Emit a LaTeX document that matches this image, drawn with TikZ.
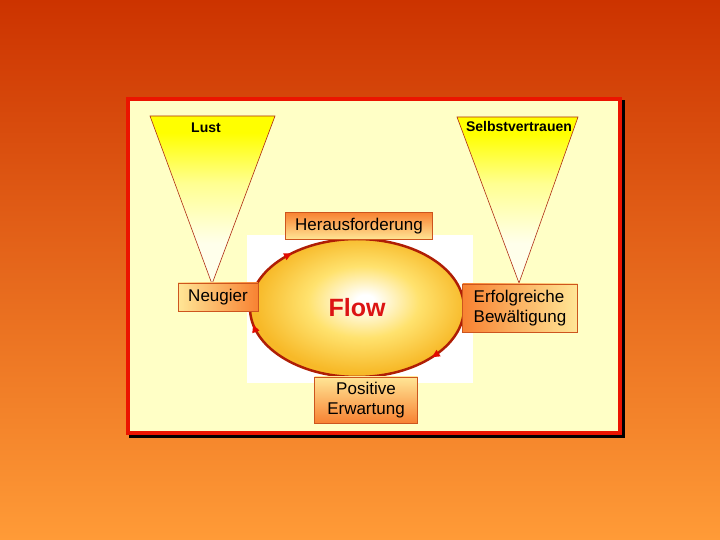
\documentclass[tikz,border=0pt]{standalone}
\usepackage{fontspec}
\setmainfont{Liberation Sans}
\usetikzlibrary{shapes.geometric,arrows.meta,decorations.markings}

\definecolor{bgtop}{RGB}{204,51,0}
\definecolor{bgbot}{RGB}{255,155,55}
\definecolor{panelred}{RGB}{235,20,0}
\definecolor{panelfill}{RGB}{255,255,198}
\definecolor{coneline}{RGB}{175,45,20}
\definecolor{conewhite}{RGB}{255,255,235}
\definecolor{conepale}{RGB}{255,255,145}
\definecolor{boxorange}{RGB}{248,130,50}
\definecolor{boxlight}{RGB}{255,230,150}
\definecolor{boxline}{RGB}{205,85,30}
\definecolor{ringred}{RGB}{175,30,5}
\definecolor{arrowred}{RGB}{225,10,0}
\definecolor{flowred}{RGB}{220,20,20}
\definecolor{flowmid}{RGB}{255,226,110}
\definecolor{flowedge}{RGB}{247,185,40}

\pgfdeclareverticalshading{coneshade}{100bp}{color(0bp)=(conewhite); color(37bp)=(conewhite); color(55bp)=(conepale); color(70bp)=(yellow); color(100bp)=(yellow)}
\pgfdeclareradialshading{flowshade}{\pgfpoint{2bp}{3bp}}{color(0bp)=(white); color(2bp)=(white); color(13bp)=(flowmid); color(25bp)=(flowedge); color(50bp)=(flowedge)}

\tikzset{
  cone/.style={shading=coneshade, draw=coneline, line width=0.6pt},
  conelabel/.style={font=\bfseries\fontsize{14}{16}\selectfont},
  box/.style={draw=boxline, line width=0.8pt, inner sep=0pt, align=center,
    font=\fontsize{17}{20}\selectfont},
  ring/.style={draw=ringred, line width=2.5pt}
}

\begin{document}
\begin{tikzpicture}[x=1pt,y=1pt,>={Triangle[length=8pt,width=7pt,color=arrowred]}]
\useasboundingbox (0,0) rectangle (720,540);
\shade[top color=bgtop, bottom color=bgbot] (0,0) rectangle (720,540);

% panel with shadow
\draw[black, line width=3.5pt] (131,104) rectangle (623,438);
\draw[panelred, fill=panelfill, line width=3.5pt] (128,107) rectangle (620,441);

% the two cones
\shadedraw[cone] (150,424) -- (275,424) -- (212,256) -- cycle;
\shadedraw[cone] (457,423) -- (578,423) -- (519,257) -- cycle;
\node[conelabel] (lust) at (206,412) {Lust};
\node[conelabel] (selbst) at (519,413) {Selbstvertrauen};

% flow cycle
\fill[white] (247,157) rectangle (473,305);
\node[ellipse, shading=flowshade, minimum width=214pt, minimum height=138pt,
  inner sep=0pt, outer sep=0pt, text=flowred, font=\bfseries\fontsize{25}{28}\selectfont] (f) at (357,232) {Flow};
\draw[ring, postaction={decorate}, decoration={markings,
    mark=at position 0.13 with {\arrow{>}},
    mark=at position 0.61 with {\arrow{>}},
    mark=at position 0.97 with {\arrow{>}}}]
  (f.west) arc[start angle=180, end angle=-180, x radius=107, y radius=69];

\node[box, top color=boxorange, bottom color=boxlight, minimum width=147pt, minimum height=27pt] (h) at (359,314) {Herausforderung};
\node[box, left color=boxlight, right color=boxorange, minimum width=80pt, minimum height=28pt] (n) at (218,243) {Neugier};
\node[box, left color=boxorange, right color=boxlight, minimum width=115pt, minimum height=48pt, align=left] (e) at (520,232) {Erfolgreiche\\Bewältigung};
\node[box, top color=boxlight, bottom color=boxorange, minimum width=103pt, minimum height=46pt] (p) at (366,140) {Positive\\Erwartung};
\end{tikzpicture}
\end{document}
